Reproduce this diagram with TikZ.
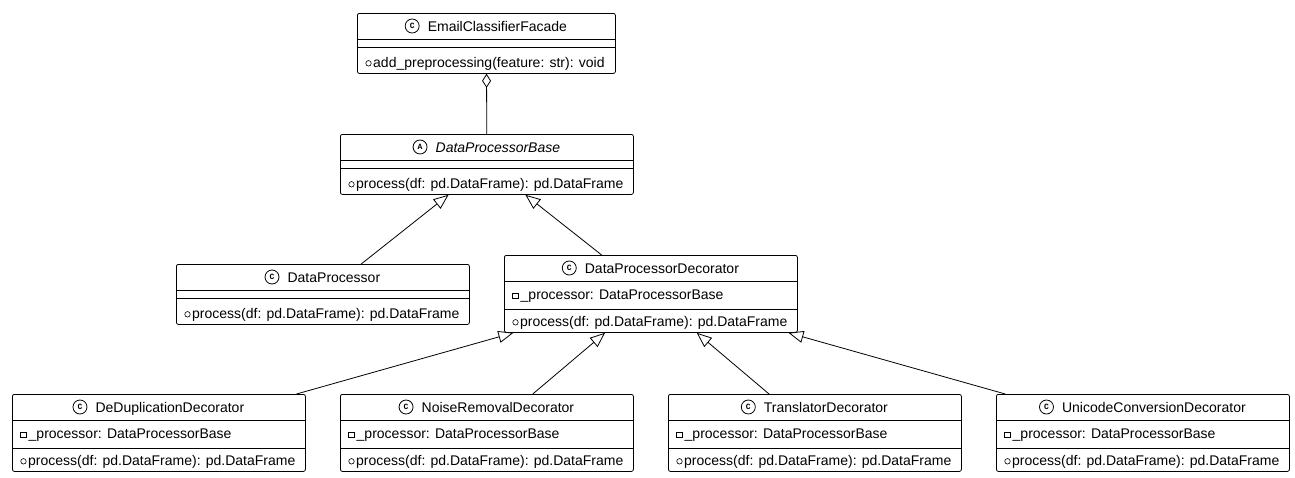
\documentclass[tikz,border=0pt]{standalone}
\usepackage{fontspec}
\setmainfont{Liberation Sans}
\newfontfamily\iconfont{Liberation Mono}
\usepackage{tikz}
\usetikzlibrary{arrows.meta}
\usetikzlibrary{positioning,calc}
\tikzset{
    classbox/.style={
        draw,
        rounded corners=2pt,
        fill=white,
        anchor=north west,
        inner sep=0pt,
        minimum width=293pt,
        minimum height=77pt,
        line width=0.8pt
    },
    shortbox/.style={
        minimum height=60pt
    },
    classtitle/.style={
        inner sep=0pt,
        text height=10pt,
        text depth=0pt,
        font=\fontsize{14}{16}\selectfont
    },
    classicon/.style={
        draw,
        circle,
        inner sep=0pt,
        minimum size=14pt,
        line width=0.8pt,
        font=\iconfont\bfseries\fontsize{8}{8}\selectfont
    },
    member/.style={inner sep=0pt, anchor=base west, font=\fontsize{14}{16}\selectfont},
    pubmark/.style={draw, circle, inner sep=0pt, minimum size=5.5pt, line width=0.6pt},
    privmark/.style={draw, rectangle, inner sep=0pt, minimum width=6pt, minimum height=5pt, line width=0.6pt},
    divider/.style={line width=0.8pt},
    extends/.style={draw, line width=0.8pt, -{Triangle[open, length=15pt, width=12pt]}},
    aggregates/.style={draw, line width=0.8pt, -{Diamond[open, length=14pt, width=9pt]}}
}
% #1 box options, #2 name, #3 top left, #4 icon letter, #5 title, #6 attribute, #7 method
\newcommand{\umlclass}[7][]{%
  \node[classbox,#1] (#2) at (#3) {};
  \node[classtitle] (#2-title) at ([xshift=11pt,yshift=-13pt]#2.north) {#5};
  \node[classicon, left=8pt of #2-title] (#2-icon) {#4};
  \draw[divider] ([yshift=-26pt]#2.north west) -- ([yshift=-26pt]#2.north east);
  \def\attrtext{#6}%
  \ifx\attrtext\empty
    \draw[divider] ([yshift=-34pt]#2.north west) -- ([yshift=-34pt]#2.north east);
  \else
    \draw[divider] ([yshift=-54pt]#2.north west) -- ([yshift=-54pt]#2.north east);
    \node[privmark] at ([xshift=11.5pt,yshift=-40.5pt]#2.north west) {};
    \node[member] at ([xshift=16.5pt,yshift=-44.5pt]#2.north west) {#6};
  \fi
  \node[pubmark] at ([xshift=11.5pt,yshift=10.5pt]#2.south west) {};
  \node[member] at ([xshift=16pt,yshift=6.5pt]#2.south west) {#7};
}

\begin{document}
\begin{tikzpicture}[x=1pt, y=-1pt]
  \useasboundingbox (0,0) rectangle (1295,477);

  \umlclass[shortbox, minimum width=258pt]{facade}{357,13}{C}{EmailClassifierFacade}{}{add\_preprocessing(feature: str): void}
  \umlclass[shortbox]{dpbase}{340,134}{A}{\itshape DataProcessorBase}{}{process(df: pd.DataFrame): pd.DataFrame}
  \umlclass[shortbox]{dp}{176,264}{C}{DataProcessor}{}{process(df: pd.DataFrame): pd.DataFrame}
  \umlclass{decorator}{504,255}{C}{DataProcessorDecorator}{\_processor: DataProcessorBase}{process(df: pd.DataFrame): pd.DataFrame}

  \draw[aggregates] (dpbase) -- (facade);
  \draw[extends] (dp) -- (dpbase);
  \draw[extends] (decorator) -- (dpbase);

  \foreach \name/\x/\title in {dedup/12/DeDuplicationDecorator, noise/340/NoiseRemovalDecorator, translator/668/TranslatorDecorator, unicode/996/UnicodeConversionDecorator} {
    \umlclass{\name}{\x,394}{C}{\title}{\_processor: DataProcessorBase}{process(df: pd.DataFrame): pd.DataFrame}
    \draw[extends] (\name) -- (decorator);
  }
\end{tikzpicture}
\end{document}
